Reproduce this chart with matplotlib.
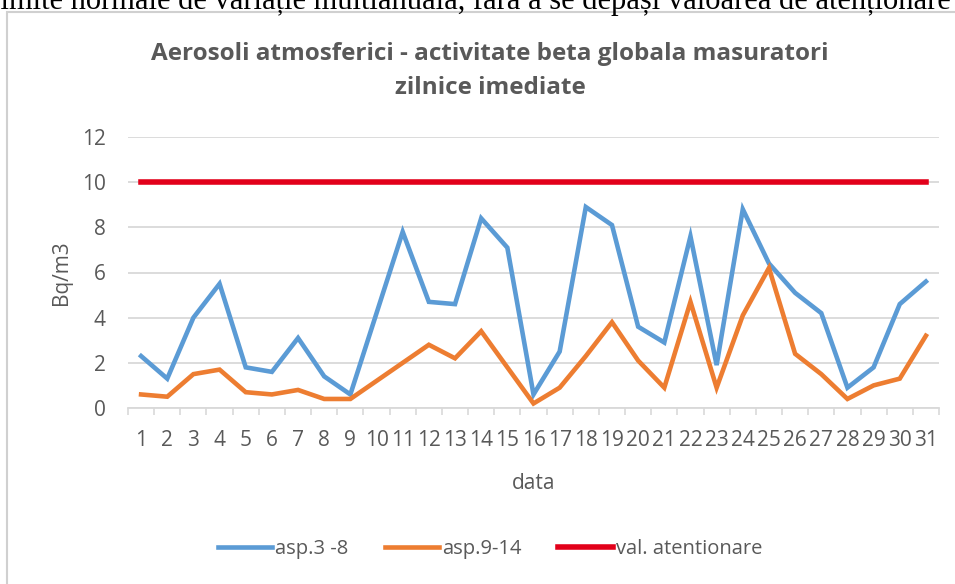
import numpy as np
import matplotlib.pyplot as plt
from matplotlib.patches import Rectangle

# daily values, Bq/m3
days = list(range(1, 32))
asp_3_8 = [2.3, 1.3, 4.0, 5.5, 1.8, 1.6, 3.1, 1.4, 0.6, 4.2,
           7.8, 4.7, 4.6, 8.4, 7.1, 0.6, 2.5, 8.9, 8.1, 3.6,
           2.9, 7.6, 1.9, 8.8, 6.4, 5.1, 4.2, 0.9, 1.8, 4.6, 5.6]
asp_9_14 = [0.6, 0.5, 1.5, 1.7, 0.7, 0.6, 0.8, 0.4, 0.4, 1.2,
            2.0, 2.8, 2.2, 3.4, 1.8, 0.2, 0.9, 2.3, 3.8, 2.1,
            0.9, 4.7, 0.9, 4.1, 6.2, 2.4, 1.5, 0.4, 1.0, 1.3, 3.2]
val_atentionare = [10] * 31

txt = "#595959"
grid = "#D9D9D9"
plt.rcParams["font.family"] = ["Open Sans", "DejaVu Sans"]

fig = plt.figure(figsize=(9.55, 5.84), dpi=100)

# cut-off sentence from the document above the chart
fig.text(-0.008, 1 - 9 / 584, "limite normale de variație multianuală, fără a se depăși valoarea de atenționare",
         family=["Liberation Serif"], fontsize=22, color="black", va="baseline", ha="left")

# chart frame
fig.patches.append(Rectangle((7 / 955, -0.05), 1.1, 1.05 - 12 / 584, transform=fig.transFigure,
                             fill=False, edgecolor="#D0D0D0", lw=1.5, clip_on=False))

ax = fig.add_axes([128 / 955, 1 - 408 / 584, (939 - 128) / 955, (408 - 137) / 584])
ax.plot(days, asp_3_8, color="#5B9BD5", lw=3.3, label="asp.3 -8", solid_joinstyle="miter")
ax.plot(days, asp_9_14, color="#ED7D31", lw=3.3, label="asp.9-14", solid_joinstyle="miter")
ax.plot(days, val_atentionare, color="#E2001A", lw=4, label="val. atentionare")

ax.set_xlim(0.5, 31.5)
ax.set_ylim(0, 12)
ax.set_yticks(range(0, 13, 2))
ax.set_xticks(days)
ax.set_xticks(np.arange(0.5, 32, 1), minor=True)
ax.grid(axis="y", color=grid, lw=1.3)
ax.set_axisbelow(True)
for s in ["top", "right", "left"]:
    ax.spines[s].set_visible(False)
ax.spines["bottom"].set_color(grid)
ax.spines["bottom"].set_linewidth(1.3)
ax.tick_params(axis="x", which="major", length=0, pad=16, labelsize=15, labelcolor=txt)
ax.tick_params(axis="x", which="minor", length=5, color=grid, width=1.2)
ax.tick_params(axis="y", length=0, pad=16, labelsize=15, labelcolor=txt)

ax.set_xlabel("data", fontsize=15, color=txt, labelpad=16)
ax.set_ylabel("Bq/m3", fontsize=15, color=txt, labelpad=7)

fig.text(490 / 955, 1 - 71 / 584, "Aerosoli atmosferici - activitate beta globala masuratori\nzilnice imediate",
         ha="center", va="center", fontsize=17.5, fontweight="bold", color=txt, linespacing=1.6)

fig.legend(loc="center", bbox_to_anchor=(490 / 955, 1 - 549 / 584), ncol=3, frameon=False,
           fontsize=14.5, labelcolor=txt, handlelength=2.7, handletextpad=0.15, columnspacing=1.8)

fig.savefig("out.png", dpi=100)
